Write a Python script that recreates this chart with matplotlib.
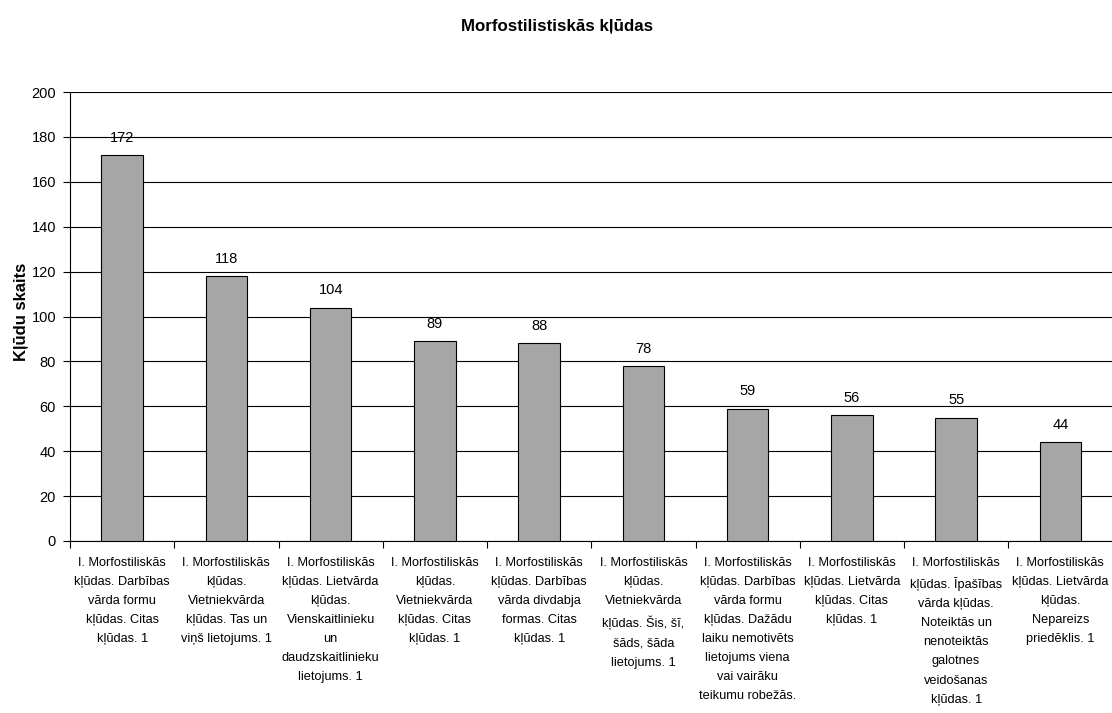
import matplotlib
matplotlib.use("Agg")
import matplotlib.pyplot as plt

categories = [
    "I. Morfostiliskās\nkļūdas. Darbības\nvārda formu\nkļūdas. Citas\nkļūdas. 1",
    "I. Morfostiliskās\nkļūdas.\nVietniekvārda\nkļūdas. Tas un\nviņš lietojums. 1",
    "I. Morfostiliskās\nkļūdas. Lietvārda\nkļūdas.\nVienskaitlinieku\nun\ndaudzskaitlinieku\nlietojums. 1",
    "I. Morfostiliskās\nkļūdas.\nVietniekvārda\nkļūdas. Citas\nkļūdas. 1",
    "I. Morfostiliskās\nkļūdas. Darbības\nvārda divdabja\nformas. Citas\nkļūdas. 1",
    "I. Morfostiliskās\nkļūdas.\nVietniekvārda\nkļūdas. Šis, šī,\nšāds, šāda\nlietojums. 1",
    "I. Morfostiliskās\nkļūdas. Darbības\nvārda formu\nkļūdas. Dažādu\nlaiku nemotivēts\nlietojums viena\nvai vairāku\nteikumu robežās.",
    "I. Morfostiliskās\nkļūdas. Lietvārda\nkļūdas. Citas\nkļūdas. 1",
    "I. Morfostiliskās\nkļūdas. Īpašības\nvārda kļūdas.\nNoteiktās un\nnenoteiktās\ngalotnes\nveidošanas\nkļūdas. 1",
    "I. Morfostiliskās\nkļūdas. Lietvārda\nkļūdas.\nNepareizs\npriedēklis. 1",
]
values = [172, 118, 104, 89, 88, 78, 59, 56, 55, 44]
yticks = [0, 20, 40, 60, 80, 100, 120, 140, 160, 180, 200]
title = "Morfostilistiskās kļūdas"
ylabel = "Kļūdu skaits"

plt.rcParams['font.family'] = ["Liberation Sans", "DejaVu Sans"]

W, H = 1112, 713
fig = plt.figure(figsize=(W / 100, H / 100), dpi=100)
ax = fig.add_axes([70 / W, (H - 541) / H, 1042.5 / W, 449 / H])

x = list(range(len(values)))
ax.bar(x, values, width=0.4, color="#A6A6A6", edgecolor="black", linewidth=0.8, zorder=3)

for xi, v in zip(x, values):
    ax.annotate(str(v), (xi, v), xytext=(0, 9.5), textcoords="offset points",
                ha="center", va="baseline", fontsize=10.5, color="black", zorder=4)

ax.set_xlim(-0.5, len(values) - 0.5)
ax.set_ylim(0, 200)
ax.set_yticks(yticks)
ax.set_yticklabels([str(t) for t in yticks], fontsize=10.5)
ax.yaxis.grid(True, color="black", linewidth=0.8)
ax.set_axisbelow(True)

ax.set_xticks(x)
ax.set_xticklabels(categories, fontsize=9.2, linespacing=1.78, ha="center", va="top")
ax.set_xticks([i - 0.5 for i in range(len(values) + 1)], minor=True)
ax.tick_params(axis="x", which="major", length=0, pad=11.5)
ax.tick_params(axis="x", which="minor", length=5, width=0.8, direction="out")
ax.tick_params(axis="y", length=5, width=0.8, direction="out", pad=5)

for s in ["top", "right"]:
    ax.spines[s].set_visible(False)
for s in ["left", "bottom"]:
    ax.spines[s].set_linewidth(0.8)

fig.text(557 / W, 1 - 27 / H, title, ha="center", va="center",
         fontsize=12.2, fontweight="bold")
fig.text(22 / W, 1 - 312 / H, ylabel, ha="center", va="center", rotation=90,
         fontsize=12, fontweight="bold")

fig.savefig("out.png", dpi=100)
